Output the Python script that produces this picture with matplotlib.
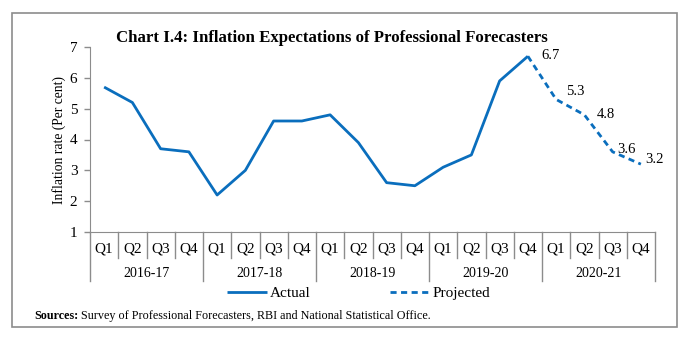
import matplotlib
matplotlib.use("Agg")
import matplotlib.pyplot as plt
from matplotlib.patches import Rectangle
from matplotlib.transforms import blended_transform_factory

plt.rcParams['font.family'] = ['Liberation Serif', 'DejaVu Serif']

years = ["2016-17", "2017-18", "2018-19", "2019-20", "2020-21"]
quarters = ["Q1", "Q2", "Q3", "Q4"]
actual = [5.7, 5.2, 3.7, 3.6, 2.2, 3.0, 4.6, 4.6, 4.8, 3.9, 2.6, 2.5, 3.1, 3.5, 5.9, 6.7]
projected = [6.7, 5.3, 4.8, 3.6, 3.2]
proj_labels = ["6.7", "5.3", "4.8", "3.6", "3.2"]
yticks = [1, 2, 3, 4, 5, 6, 7]

blue = "#0A6EBD"
grey = "#8C8C8C"

fig = plt.figure(figsize=(6.95, 3.37), dpi=100)
W, H = 695, 337
ax = fig.add_axes([90 / W, 1 - 232 / H, 565 / W, 185 / H])

n = len(years) * len(quarters)
xa = list(range(len(actual)))
xp = list(range(len(actual) - 1, len(actual) - 1 + len(projected)))

ax.plot(xa, actual, color=blue, lw=2.0, label="Actual", solid_capstyle='butt')
ax.plot(xp, projected, color=blue, lw=2.0, ls=(0, (2.2, 1.6)), label="Projected")

offsets = [(9.4, 0.5), (7.2, 5.8), (8.6, 0.5), (3.6, 1.4), (2.9, 3.6)]
for x, y, t, off in zip(xp, projected, proj_labels, offsets):
    ax.annotate(t, (x, y), xytext=off, textcoords='offset points',
                fontsize=10.5, ha='left', va='center')

ax.set_xlim(-0.5, n - 0.5)
ax.set_ylim(1, 7)
ax.set_yticks(yticks)
ax.tick_params(axis='y', labelsize=11, length=4, color=grey, width=1, pad=5)
ax.set_xticks([])
for s in ['top', 'right']:
    ax.spines[s].set_visible(False)
ax.spines['left'].set_color(grey)
ax.spines['bottom'].set_color(grey)
ax.set_ylabel("Inflation rate (Per cent)", fontsize=9.8)
ax.yaxis.set_label_coords(-0.042, 0.5)

tr = blended_transform_factory(ax.transData, ax.transAxes)
for i in range(n + 1):
    bottom = -0.265 if i % 4 == 0 else -0.14
    ax.plot([i - 0.5, i - 0.5], [0, bottom], color=grey, lw=1, transform=tr, clip_on=False)
for i in range(n):
    ax.text(i, -0.092, quarters[i % 4], transform=tr, ha='center', va='center', fontsize=11)
for j, yr in enumerate(years):
    ax.text(j * 4 + 1.5, -0.222, yr, transform=tr, ha='center', va='center', fontsize=10)

ax.legend(loc='center', bbox_to_anchor=(0.476, -0.33), ncol=2, frameon=False,
          fontsize=11, handlelength=2.6, columnspacing=5.2, handletextpad=0.2,
          borderaxespad=0)

fig.text(332 / W, 1 - 38 / H, "Chart I.4: Inflation Expectations of Professional Forecasters",
         ha='center', va='center', fontsize=12.1, fontweight='bold')

t1 = fig.text(34 / W, 1 - 316 / H, "Sources:", ha='left', va='center', fontsize=8.7, fontweight='bold')
fig.canvas.draw()
bb = t1.get_window_extent()
fig.text(bb.x1 / W + 3 / W, 1 - 316 / H,
         "Survey of Professional Forecasters, RBI and National Statistical Office.",
         ha='left', va='center', fontsize=8.7)

fig.patches.append(Rectangle((12 / W, 1 - 327 / H), 665 / W, 314 / H, transform=fig.transFigure,
                             fill=False, edgecolor=grey, lw=1.2))

fig.savefig("out.png", dpi=100)
